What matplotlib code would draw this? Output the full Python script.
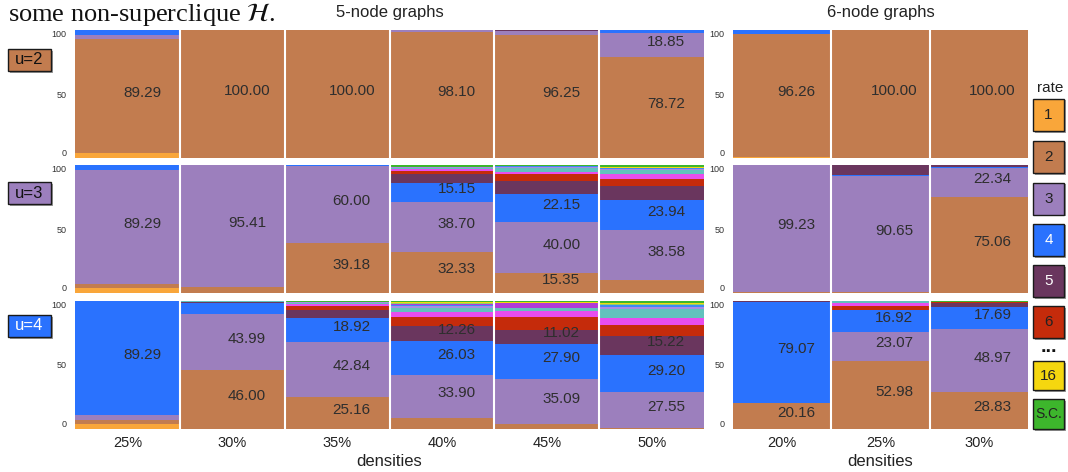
import matplotlib
matplotlib.use("Agg")
import matplotlib.pyplot as plt
from matplotlib.patches import Rectangle

plt.rcParams['font.family'] = ['Liberation Sans', 'DejaVu Sans']
plt.rcParams['mathtext.fontset'] = 'stix'

rates = ['1', '2', '3', '4', '5', '6', '7', '8', '9', '10', '11', '12',
         '13', '14', '15', '16', 'S.C.']
rate_colors = {
    '1': '#F9A63A', '2': '#C27C4F', '3': '#9C7FBD', '4': '#2A72FE',
    '5': '#6A365E', '6': '#C52B0B', '7': '#E84DEE', '8': '#62C2BD',
    '9': '#A88BE3', '10': '#3F8AF2', '11': '#B13BD6', '12': '#8FCF6A',
    '13': '#F29BC9', '14': '#1E1E1E', '15': '#E0B84C', '16': '#F5D70F',
    'S.C.': '#3DB62C',
}

dens_5 = ['25%', '30%', '35%', '40%', '45%', '50%']
dens_6 = ['20%', '25%', '30%']
u_values = [2, 3, 4]

# share of each rate (percent) per density column
u2_5node = [
    {'1': 3.60, '2': 89.29, '3': 3.10, '4': 4.01},
    {'2': 100.00},
    {'2': 100.00},
    {'2': 98.10, '3': 1.90},
    {'2': 96.25, '3': 3.20, '5': 0.55},
    {'2': 78.72, '3': 18.85, '4': 2.43},
]
u2_6node = [
    {'1': 1.00, '2': 96.26, '4': 2.74},
    {'2': 100.00},
    {'2': 100.00},
]
u3_5node = [
    {'1': 3.70, '2': 3.10, '3': 89.29, '4': 3.91},
    {'2': 4.59, '3': 95.41},
    {'2': 39.18, '3': 60.00, '4': 0.82},
    {'2': 32.33, '3': 38.70, '4': 15.15, '5': 7.0, '6': 2.3, '7': 1.3,
     '8': 1.2, '9': 0.8, 'S.C.': 1.22},
    {'2': 15.35, '3': 40.00, '4': 22.15, '5': 10.0, '6': 5.5, '7': 1.8,
     '8': 2.6, '9': 0.9, '10': 0.7, 'S.C.': 1.0},
    {'2': 10.4, '3': 38.58, '4': 23.94, '5': 10.4, '6': 6.0, '7': 3.4,
     '8': 3.4, '9': 1.0, '10': 0.8, '16': 0.5, 'S.C.': 1.58},
]
u3_6node = [
    {'2': 0.77, '3': 99.23},
    {'2': 0.75, '3': 90.65, '4': 0.8, '5': 7.8},
    {'2': 75.06, '3': 22.34, '4': 0.8, '5': 1.8},
]
u4_5node = [
    {'1': 3.9, '2': 2.9, '3': 3.91, '4': 89.29},
    {'2': 46.00, '3': 43.99, '4': 8.6, '5': 0.7, '6': 0.3, '8': 0.41},
    {'2': 25.16, '3': 42.84, '4': 18.92, '5': 6.3, '6': 2.5, '7': 1.9,
     '8': 0.8, '9': 0.6, '16': 0.5, 'S.C.': 0.48},
    {'2': 8.5, '3': 33.90, '4': 26.03, '5': 12.26, '6': 6.5, '7': 4.0,
     '8': 3.2, '9': 1.5, '10': 1.2, '11': 0.9, '12': 0.8, '16': 0.6,
     'S.C.': 0.61},
    {'2': 3.7, '3': 35.09, '4': 27.90, '5': 11.02, '6': 9.6, '7': 5.1,
     '8': 2.4, '11': 3.4, '14': 0.6, '16': 0.7, 'S.C.': 0.49},
    {'2': 1.0, '3': 27.55, '4': 29.20, '5': 15.22, '6': 8.5, '7': 5.4,
     '8': 6.6, '9': 1.8, '10': 1.6, '12': 0.8, '16': 1.0, 'S.C.': 1.33},
]
u4_6node = [
    {'2': 20.16, '4': 79.07, '5': 0.77},
    {'2': 52.98, '3': 23.07, '4': 16.92, '6': 3.4, '7': 1.73, '8': 1.9},
    {'2': 28.83, '3': 48.97, '4': 17.69, '5': 3.1, '6': 0.8, 'S.C.': 0.61},
]

legend_rates = ['1', '2', '3', '4', '5', '6', '16', 'S.C.']
label_min = 11.0

W, H = 1068, 472
fig = plt.figure(figsize=(W / 100, H / 100), dpi=100)


def fx(px):
    return px / W


def fy(py):
    return 1 - py / H


def draw_panel(ax, columns, densities, show_x):
    for i, col in enumerate(columns):
        bottom = 0.0
        for r in rates:
            v = col.get(r, 0)
            if v <= 0:
                continue
            ax.bar(i, v, bottom=bottom, width=1.0, color=rate_colors[r],
                   linewidth=0)
            if v >= label_min:
                ax.text(i + 0.14, bottom + v / 2 + 2.5, f'{v:.2f}',
                        ha='center', va='center', fontsize=11,
                        color='#2e2e2e')
            bottom += v
    # white gaps between density columns
    for i in range(len(columns) - 1):
        ax.axvline(i + 0.5, color='white', linewidth=1.5)
    ax.set_xlim(-0.5, len(columns) - 0.5)
    ax.set_ylim(0, 100)
    ax.set_yticks([0, 50, 100])
    ax.set_yticklabels(['0', '50', '100'], fontsize=6.5, color='#333333')
    labels = ax.get_yticklabels()
    labels[0].set_va('bottom')
    labels[2].set_va('top')
    ax.tick_params(length=0, pad=6)
    ax.set_xticks(range(len(densities)))
    if show_x:
        ax.set_xticklabels(densities, fontsize=10.5, color='#222222')
        ax.tick_params(axis='x', pad=5)
    else:
        ax.set_xticklabels([])
    for s in ax.spines.values():
        s.set_visible(False)


row_tops = [30, 165, 301]
row_h = 128
groups = [(75, 704, dens_5), (733, 1028, dens_6)]
row_data = [(u2_5node, u2_6node), (u3_5node, u3_6node), (u4_5node, u4_6node)]

for r, top in enumerate(row_tops):
    for g, (x0, x1, dens) in enumerate(groups):
        ax = fig.add_axes([fx(x0), fy(top + row_h), fx(x1 - x0), row_h / H])
        draw_panel(ax, row_data[r][g], dens, r == 2)

# group titles and axis names
for x0, x1, title in [(75, 704, '5-node graphs'), (733, 1028, '6-node graphs')]:
    cx = fx((x0 + x1) / 2)
    fig.text(cx, fy(12), title, ha='center', va='center', fontsize=12,
             color='#222222')
    fig.text(cx, fy(462), 'densities', ha='center', va='center',
             fontsize=12, color='#222222')


def boxed(x, y, w, h, color):
    # small box with a grey drop shadow, pixel coordinates from top-left
    fig.patches.append(Rectangle((fx(x + 1.5), fy(y + h + 1.5)), fx(w),
                                 h / H, transform=fig.transFigure,
                                 facecolor='#9a9a9a', edgecolor='none'))
    fig.patches.append(Rectangle((fx(x), fy(y + h)), fx(w), h / H,
                                 transform=fig.transFigure, facecolor=color,
                                 edgecolor='#1a1a1a', linewidth=1.0))


# row labels
for u, yc in zip(u_values, [60, 193, 326]):
    c = rate_colors[str(u)]
    boxed(8, yc - 11, 43, 22, c)
    fig.text(fx(29.5), fy(yc), f'u={u}', ha='center', va='center',
             fontsize=12, color='white' if u == 4 else '#111111')

# legend
fig.text(fx(1050), fy(88), 'rate', ha='center', va='center', fontsize=11,
         color='#222222')
legend_y = [99, 141, 183, 224, 265, 306, 361, 399]
legend_h = [32, 32, 32, 32, 32, 32, 29, 30]
for r, y, h in zip(legend_rates, legend_y, legend_h):
    boxed(1033, y, 31, h, rate_colors[r])
    fig.text(fx(1048.5), fy(y + h / 2), r, ha='center', va='center',
             fontsize=11 if r != 'S.C.' else 10,
             color='white' if r in ('4', '5') else '#222222')
fig.text(fx(1048.5), fy(348), '...', ha='center', va='center',
         fontsize=14, fontweight='bold', color='#111111')

# running text of the page above the figure
fig.text(fx(8), fy(21), r'some non-superclique $\mathcal{H}$.',
         ha='left', va='baseline', fontsize=19, family='Liberation Serif',
         color='#111111')

fig.savefig('out.png', dpi=100)
